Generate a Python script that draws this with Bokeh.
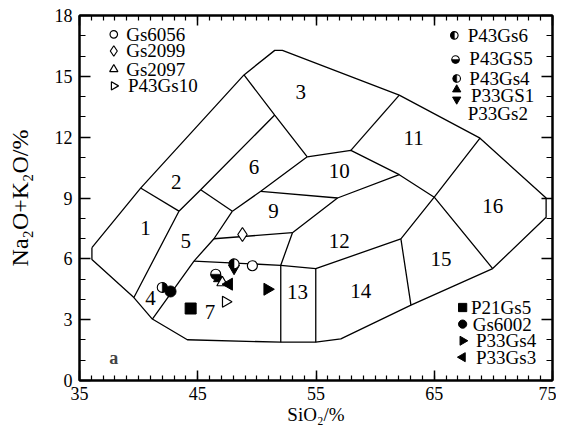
import math
from bokeh.plotting import figure
from bokeh.models import LinearAxis, FixedTicker, Label
from bokeh.embed import file_html
from bokeh.resources import INLINE
from bokeh.core.properties import value

# ---------------- data ----------------
# outer boundary of the classification diagram (SiO2, Na2O+K2O)
outer_x = [36.05, 40.17, 48.91, 51.51, 52.16, 62.04, 68.87, 74.46, 74.46, 69.94,
           63.03, 57.10, 54.98, 52.02, 44.12, 41.16, 39.60, 36.05, 36.05]
outer_y = [6.55, 9.49, 15.07, 16.28, 16.28, 14.07, 11.95, 9.00, 8.05, 5.52,
           3.72, 2.05, 1.89, 1.89, 2.01, 3.03, 4.09, 5.97, 6.55]

# internal field boundaries
field_lines_x = [
    [40.17, 43.41],
    [39.60, 43.41, 45.25, 51.51],
    [48.91, 51.51, 54.26],
    [62.04, 57.95],
    [54.26, 57.95, 62.04, 65.00],
    [45.25, 47.93],
    [41.16, 44.68, 46.37, 47.93],
    [47.93, 50.33, 54.26],
    [50.33, 56.82, 62.04],
    [68.87, 65.00, 69.94],
    [65.00, 62.18, 63.03],
    [62.18, 54.98, 52.02, 44.68],
    [52.02, 53.01, 56.82],
    [46.37, 53.01],
    [52.02, 52.02],
    [54.98, 54.98],
]
field_lines_y = [
    [9.49, 8.35],
    [4.09, 8.35, 9.41, 13.09],
    [15.07, 13.09, 11.03],
    [14.07, 11.35],
    [11.03, 11.35, 10.15, 9.04],
    [9.41, 8.35],
    [3.03, 5.89, 6.99, 8.35],
    [8.35, 9.33, 11.03],
    [9.33, 9.00, 10.15],
    [11.95, 9.04, 5.52],
    [9.04, 6.98, 3.72],
    [6.98, 5.52, 5.68, 5.89],
    [5.68, 7.29, 9.00],
    [6.99, 7.29],
    [5.68, 1.89],
    [5.52, 1.89],
]

field_labels = ["1", "2", "3", "4", "5", "6", "7", "9", "10", "11", "12", "13", "14", "15", "16"]
field_label_x = [40.59, 43.19, 53.71, 41.01, 43.98, 49.76, 46.03, 51.40, 56.96, 63.26, 56.96, 53.43, 58.79, 65.57, 69.94]
field_label_y = [7.53, 9.77, 14.24, 4.09, 6.87, 10.53, 3.36, 8.35, 10.31, 11.95, 6.87, 4.34, 4.42, 6.01, 8.59]

# samples
gs6056_x, gs6056_y = [49.62], [5.66]
gs2099_x, gs2099_y = [48.78], [7.20]
gs2097_x, gs2097_y = [47.08], [4.83]
p43gs10_x, p43gs10_y = [47.36], [3.88]
p43gs6_x, p43gs6_y = [48.07], [5.75]
p43gs5_x, p43gs5_y = [46.52], [5.24]
p43gs4_x, p43gs4_y = [42.00], [4.59]
p33gs1_x, p33gs1_y = [46.80], [5.03]
p33gs2_x, p33gs2_y = [48.07], [5.53]
p21gs5_x, p21gs5_y = [44.40], [3.55]
gs6002_x, gs6002_y = [42.70], [4.39]
p33gs4_x, p33gs4_y = [50.89], [4.50]
p33gs3_x, p33gs3_y = [47.64], [4.75]

x_major_ticks = [35, 45, 55, 65, 75]
x_minor_ticks = list(range(35, 76))
y_major_ticks = [0, 3, 6, 9, 12, 15, 18]
y_minor_ticks = list(range(0, 19))

# ---------------- figure ----------------
SERIF = "Liberation Serif"
p = figure(width=556, height=427, x_range=(35, 75), y_range=(0, 18),
           output_backend="svg", toolbar_location=None,
           min_border_left=79, min_border_right=4, min_border_top=15, min_border_bottom=45)
p.background_fill_color = "white"
p.border_fill_color = "white"
p.xgrid.visible = False
p.ygrid.visible = False
p.outline_line_color = "black"
p.outline_line_width = 2

def style_axis(ax, horizontal, labels=True):
    ax.axis_line_color = "black"
    ax.axis_line_width = 2
    ax.major_tick_line_color = "black"
    ax.minor_tick_line_color = "black"
    ax.major_tick_line_width = 1.5
    ax.minor_tick_line_width = 1.2
    ax.major_tick_out = 0
    ax.minor_tick_out = 0
    if horizontal:
        ax.major_tick_in = 10
        ax.minor_tick_in = 5
    else:
        ax.major_tick_in = 11
        ax.minor_tick_in = 6
    ax.major_label_text_font = SERIF
    ax.major_label_text_font_size = "18px" if labels else "0px"
    ax.major_label_text_color = "black" if labels else None
    ax.axis_label_text_font = SERIF
    ax.axis_label_text_font_style = "normal"
    ax.axis_label_text_color = "black"

p.xaxis.ticker = FixedTicker(ticks=x_major_ticks, minor_ticks=x_minor_ticks)
p.yaxis.ticker = FixedTicker(ticks=y_major_ticks, minor_ticks=y_minor_ticks)
style_axis(p.xaxis[0], True)
style_axis(p.yaxis[0], False)
p.xaxis.axis_label = "SiO₂/%"
p.xaxis.axis_label_text_font_size = "19px"
p.xaxis.major_label_standoff = 6
p.xaxis.axis_label_standoff = 1
p.yaxis.axis_label = "Na₂O+K₂O/%"
p.yaxis.axis_label_text_font_size = "24px"
p.yaxis.major_label_standoff = 7
p.yaxis.axis_label_standoff = 19

top_ax = LinearAxis(ticker=FixedTicker(ticks=x_major_ticks, minor_ticks=x_minor_ticks))
style_axis(top_ax, True, labels=False)
p.add_layout(top_ax, "above")
right_ax = LinearAxis(ticker=FixedTicker(ticks=y_major_ticks, minor_ticks=y_minor_ticks))
style_axis(right_ax, False, labels=False)
p.add_layout(right_ax, "right")

# field boundaries
p.line(outer_x, outer_y, line_color="black", line_width=1.3)
p.multi_line(field_lines_x, field_lines_y, line_color="black", line_width=1.3)

p.text(x=field_label_x, y=field_label_y, text=field_labels,
       text_font=value(SERIF), text_font_size="21px", text_color="black",
       text_align="center", text_baseline="middle")

# ---------------- markers ----------------
def half_circle(xs, ys, size, start, end):
    p.scatter(xs, ys, marker="circle", size=size, fill_color="white", line_color="black", line_width=1.1)
    p.wedge(x=xs, y=ys, radius=size / 2.0, radius_units="screen",
            start_angle=start, end_angle=end, fill_color="black", line_color="black", line_width=0.5)

def draw_sample(kind, xs, ys, big=True):
    s = 1.0 if big else 0.75
    if kind == "open_circle":
        p.scatter(xs, ys, marker="circle", size=10 * s, fill_color="white", line_color="black", line_width=1.2)
    elif kind == "open_diamond":
        p.scatter(xs, ys, marker="diamond", size=14 * s, fill_color="white", line_color="black", line_width=1.2)
    elif kind == "open_triangle":
        p.scatter(xs, ys, marker="triangle", size=11 * s, fill_color="white", line_color="black", line_width=1.2)
    elif kind == "open_right":
        p.scatter(xs, ys, marker="triangle", size=11 * s, angle=-math.pi / 2,
                  fill_color="white", line_color="black", line_width=1.2)
    elif kind == "half_left":
        half_circle(xs, ys, 10 * s, math.pi / 2, 3 * math.pi / 2)
    elif kind == "half_bottom":
        half_circle(xs, ys, 10 * s, math.pi, 2 * math.pi)
    elif kind == "half_right":
        half_circle(xs, ys, 10 * s, -math.pi / 2, math.pi / 2)
    elif kind == "up":
        p.scatter(xs, ys, marker="triangle", size=11 * s, fill_color="black", line_color="black")
    elif kind == "down":
        p.scatter(xs, ys, marker="inverted_triangle", size=11 * s, fill_color="black", line_color="black")
    elif kind == "square":
        p.scatter(xs, ys, marker="square", size=11 * s, fill_color="black", line_color="black")
    elif kind == "dot":
        p.scatter(xs, ys, marker="circle", size=11 * s, fill_color="black", line_color="black")
    elif kind == "right":
        p.scatter(xs, ys, marker="triangle", size=12 * s, angle=-math.pi / 2, fill_color="black", line_color="black")
    elif kind == "left":
        p.scatter(xs, ys, marker="triangle", size=12 * s, angle=math.pi / 2, fill_color="black", line_color="black")

samples = [
    ("Gs6056", "open_circle", gs6056_x, gs6056_y),
    ("Gs2099", "open_diamond", gs2099_x, gs2099_y),
    ("P43Gs4", "half_right", p43gs4_x, p43gs4_y),
    ("Gs6002", "dot", gs6002_x, gs6002_y),
    ("P21Gs5", "square", p21gs5_x, p21gs5_y),
    ("P43Gs10", "open_right", p43gs10_x, p43gs10_y),
    ("P33GS1", "up", p33gs1_x, p33gs1_y),
    ("Gs2097", "open_triangle", gs2097_x, gs2097_y),
    ("P43GS5", "half_bottom", p43gs5_x, p43gs5_y),
    ("P33Gs3", "left", p33gs3_x, p33gs3_y),
    ("P33Gs2", "down", p33gs2_x, p33gs2_y),
    ("P43Gs6", "half_left", p43gs6_x, p43gs6_y),
    ("P33Gs4", "right", p33gs4_x, p33gs4_y),
]
for name, kind, xs, ys in samples:
    draw_sample(kind, xs, ys)

# ---------------- legends (layout positions in data units) ----------------
legend_rows = [
    # name, kind, marker x, marker y, text x, text y
    ("Gs6056", "open_circle", 37.90, 17.07, 38.95, 17.07),
    ("Gs2099", "open_diamond", 37.90, 16.25, 38.95, 16.25),
    ("Gs2097", "open_triangle", 37.90, 15.35, 38.95, 15.35),
    ("P43Gs10", "open_right", 37.90, 14.53, 39.10, 14.53),
    ("P43Gs6", "half_left", 66.70, 17.02, 67.83, 17.02),
    ("P43GS5", "half_bottom", 66.80, 15.83, 67.97, 15.89),
    ("P43Gs4", "half_left", 66.90, 14.89, 67.97, 14.91),
    ("P33GS1", "up", 66.90, 14.35, 68.10, 14.07),
    ("P33Gs2", "down", 66.90, 13.86, 67.83, 13.18),
    ("P21Gs5", "square", 67.40, 3.60, 68.11, 3.60),
    ("Gs6002", "dot", 67.40, 2.78, 68.25, 2.78),
    ("P33Gs4", "right", 67.40, 1.96, 68.53, 1.96),
    ("P33Gs3", "left", 67.40, 1.15, 68.53, 1.15),
]
for name, kind, mx, my, tx, ty in legend_rows:
    draw_sample(kind, [mx], [my], big=False)
p.text(x=[r[4] for r in legend_rows], y=[r[5] for r in legend_rows], text=[r[0] for r in legend_rows],
       text_font=value(SERIF), text_font_size="19px", text_color="black",
       text_align="left", text_baseline="middle")

p.add_layout(Label(x=37.9, y=1.11, text="a", text_font=SERIF, text_font_size="18px",
                   text_font_style="bold", text_align="center", text_baseline="middle"))

open("out.html", "w").write(file_html(p, INLINE))
